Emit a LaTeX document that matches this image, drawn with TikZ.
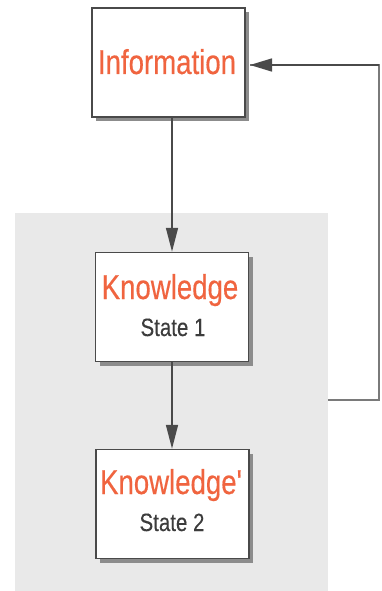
\documentclass[tikz,border=0pt]{standalone}
\usepackage{fontspec}
\setmainfont{Liberation Sans}
\newfontfamily\narrowsans[FakeStretch=0.8, FakeBold=0.4]{Liberation Sans}
\newfontfamily\narrowsub[FakeStretch=0.82, FakeBold=0.2]{Liberation Sans}
\usetikzlibrary{shadows,arrows.meta}
\definecolor{titlered}{HTML}{F0643F}
\definecolor{subgray}{HTML}{3C3C3C}
\definecolor{edgegray}{HTML}{4A4A4A}
\definecolor{panelgray}{HTML}{E9E9E9}
\definecolor{loopgray}{HTML}{7A7A7A}
\tikzset{
  conceptbox/.style={draw=edgegray, line width=1.5pt, fill=white,
    minimum width=153pt, minimum height=109pt, inner sep=0pt,
    drop shadow={shadow xshift=4pt, shadow yshift=-4pt, fill=black!45, opacity=1}},
  titletext/.style={anchor=base, inner sep=0pt, text=titlered,
    font=\narrowsans\fontsize{34.5}{38}\selectfont},
  subtext/.style={anchor=base, inner sep=0pt, text=subgray,
    font=\narrowsub\fontsize{25}{28}\selectfont},
  flow/.style={draw=edgegray, line width=1.6pt,
    -{Triangle[length=24pt, width=12pt]}},
  loopline/.style={draw=loopgray, line width=1.8pt},
  panel/.style={fill=panelgray, draw=none, minimum width=313pt,
    minimum height=400pt, inner sep=0pt, anchor=north west}
}
\begin{document}
\begin{tikzpicture}[x=1pt, y=-1pt]
  \useasboundingbox (0,0) rectangle (381,591);
  \clip (0,0) rectangle (381,591);

  % grey background panel holding the two knowledge states
  \node[panel] (pnl) at (15,213) {};

  % boxes
  \node[conceptbox] (info) at (168.5,62.5) {};
  \node[conceptbox] (k1)   at (172,307)   {};
  \node[conceptbox] (k2)   at (172.5,504) {};

  % box texts
  \node[titletext] (infoT) at (167,74)  {Information};
  \node[titletext] (k1T)   at (170,299) {Knowledge};
  \node[subtext]   (k1S)   at (173,336) {State 1};
  \node[titletext] (k2T)   at (171,494) {Knowledge'};
  \node[subtext]   (k2S)   at (172,531) {State 2};

  % downward flow
  \draw[flow] (k1.north |- info.south) -- (k1.north);
  \draw[flow] (k1.south) -- (k2.north -| k1.south);

  % feedback loop from the panel back to the information box
  \coordinate (fbA) at (pnl.east |- 0,400);
  \coordinate (fbB) at (379,400);
  \coordinate (fbC) at (379,65);
  \coordinate (fbD) at (250,65);
  \draw[loopline] (fbA) -- (fbB) -- (fbC) -- (fbD);
  \draw[flow, -{Triangle[length=22pt, width=13pt]}] (fbC) -- (fbD);
\end{tikzpicture}
\end{document}
